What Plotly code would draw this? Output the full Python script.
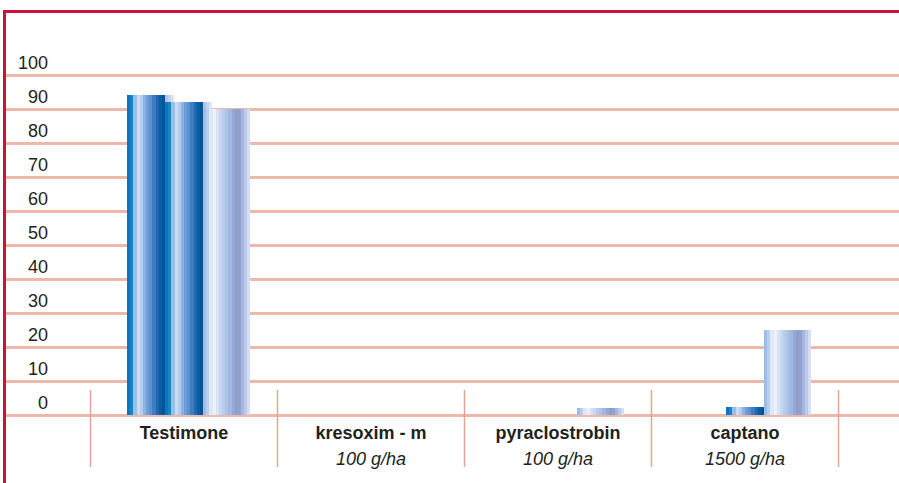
import plotly.graph_objects as go

# ---- data ----
categories = ["Testimone", "kresoxim - m", "pyraclostrobin", "captano"]
doses = ["", "100 g/ha", "100 g/ha", "1500 g/ha"]
series_a = [94, 0, 0, 0]
series_b = [92, 0, 0, 2.5]
series_c = [90, 0, 2, 25]
y_ticks = [0, 10, 20, 30, 40, 50, 60, 70, 80, 90, 100]

# ---- geometry (pixels) ----
W, H = 899, 483
PX_PER_CAT = 187.0      # horizontal pixels per category
CENTER0 = 184.0         # pixel x of the first category centre
PLOT_LEFT = 6
PLOT_TOP = 13
ZERO_PX = 415
PX_PER_UNIT = 3.4
BAR_PX = 38             # visible face of each bar
EDGE_PX = 9             # light side strip to the right of each bar

x_lo = (PLOT_LEFT - CENTER0) / PX_PER_CAT
x_hi = (W - CENTER0) / PX_PER_CAT
y_lo = -(H - ZERO_PX) / PX_PER_UNIT
y_hi = (ZERO_PX - PLOT_TOP) / PX_PER_UNIT

GRID = "#ecb8a9"
SEP = "#e8a493"
BORDER = "#cf1139"
TEXT = "#231f20"

# cylinder shading, left to right
blue_face = ["#0877c0", "#1a82c6", "#9dbde8", "#c9dcf3", "#b4cdee", "#8db2e1",
             "#6c9dd6", "#5a91d0", "#3f7dc2", "#1f68b1", "#085da6", "#005597"]
blue_edge = ["#b3c2e8", "#c6d1ef", "#dde4f5"]
pale_face = ["#9fbce6", "#b9cfee", "#dfe8f7", "#ecf1fa", "#d7e3f5", "#c6d7f0",
             "#b8ccec", "#adc3e8", "#a2b8e2", "#96a9d4", "#8e9fcc", "#90a2cd"]
pale_edge = ["#a7b6de", "#bccaea", "#d5def2"]

series = [
    (series_a, blue_face, blue_edge),
    (series_b, blue_face, blue_edge),
    (series_c, pale_face, pale_edge),
]

x_pos = list(range(len(categories)))
fig = go.Figure()

overlap = 1.6 / PX_PER_CAT
for k, (vals, face, edge) in enumerate(series):
    left = (-57 + BAR_PX * k) / PX_PER_CAT
    fw = BAR_PX / len(face) / PX_PER_CAT
    ew = EDGE_PX / len(edge) / PX_PER_CAT
    eleft = left + BAR_PX / PX_PER_CAT
    strips = [(left + j * fw, fw, c) for j, c in enumerate(face)]
    strips += [(eleft + j * ew, ew, c) for j, c in enumerate(edge)]
    for n, (off, w, col) in enumerate(strips):
        last = n == len(strips) - 1
        fig.add_trace(go.Bar(
            x=x_pos, y=vals, offset=off, width=w + (0 if last else overlap),
            marker=dict(color=col, line=dict(width=0)),
            showlegend=False, hoverinfo="y" if n == 0 else "skip",
        ))

# carrier for the second row of category labels
fig.add_trace(go.Scatter(x=[], y=[], xaxis="x2", yaxis="y", showlegend=False))

# category separators
shapes = []
for i in range(len(categories) + 1):
    shapes.append(dict(type="line", xref="x", yref="y",
                       x0=i - 0.5, x1=i - 0.5, y0=7.35, y1=-15.3,
                       line=dict(color=SEP, width=1.5)))
# frame on top and left
shapes.append(dict(type="path", xref="paper", yref="paper",
                   path=f"M 0.005,0 L 0.005,{1 - 11.5 / H} L 1,{1 - 11.5 / H}",
                   line=dict(color=BORDER, width=3)))

font = dict(family="Liberation Sans, Arial, sans-serif", size=18, color=TEXT)

fig.update_layout(
    width=W, height=H,
    margin=dict(l=0, r=0, t=0, b=0),
    paper_bgcolor="white", plot_bgcolor="white",
    barmode="overlay", bargap=0,
    font=font,
    shapes=shapes,
    xaxis=dict(domain=[PLOT_LEFT / W, 1], range=[x_lo, x_hi],
               tickvals=x_pos, ticktext=[f"<b>{c}</b>" for c in categories],
               showgrid=False, zeroline=False, showline=False, ticks="",
               anchor="free", position=(H - ZERO_PX) / H, ticklabelstandoff=5,
               tickfont=font, fixedrange=True),
    xaxis2=dict(domain=[PLOT_LEFT / W, 1], range=[x_lo, x_hi], overlaying="x",
                tickvals=x_pos, ticktext=[f"<i>{d}</i>" if d else "" for d in doses],
                showgrid=False, zeroline=False, showline=False, ticks="",
                anchor="free", position=(H - 446) / H, side="bottom",
                tickfont=font, fixedrange=True),
    yaxis=dict(domain=[0, 1 - PLOT_TOP / H], range=[y_lo, y_hi],
               tickvals=y_ticks, ticktext=[str(v) for v in y_ticks],
               showgrid=True, gridcolor=GRID, gridwidth=3,
               zeroline=False, showline=False, ticks="",
               anchor="free", position=48 / W, ticklabelshift=-12,
               tickfont=font, fixedrange=True),
)

fig.write_html("out.html")
